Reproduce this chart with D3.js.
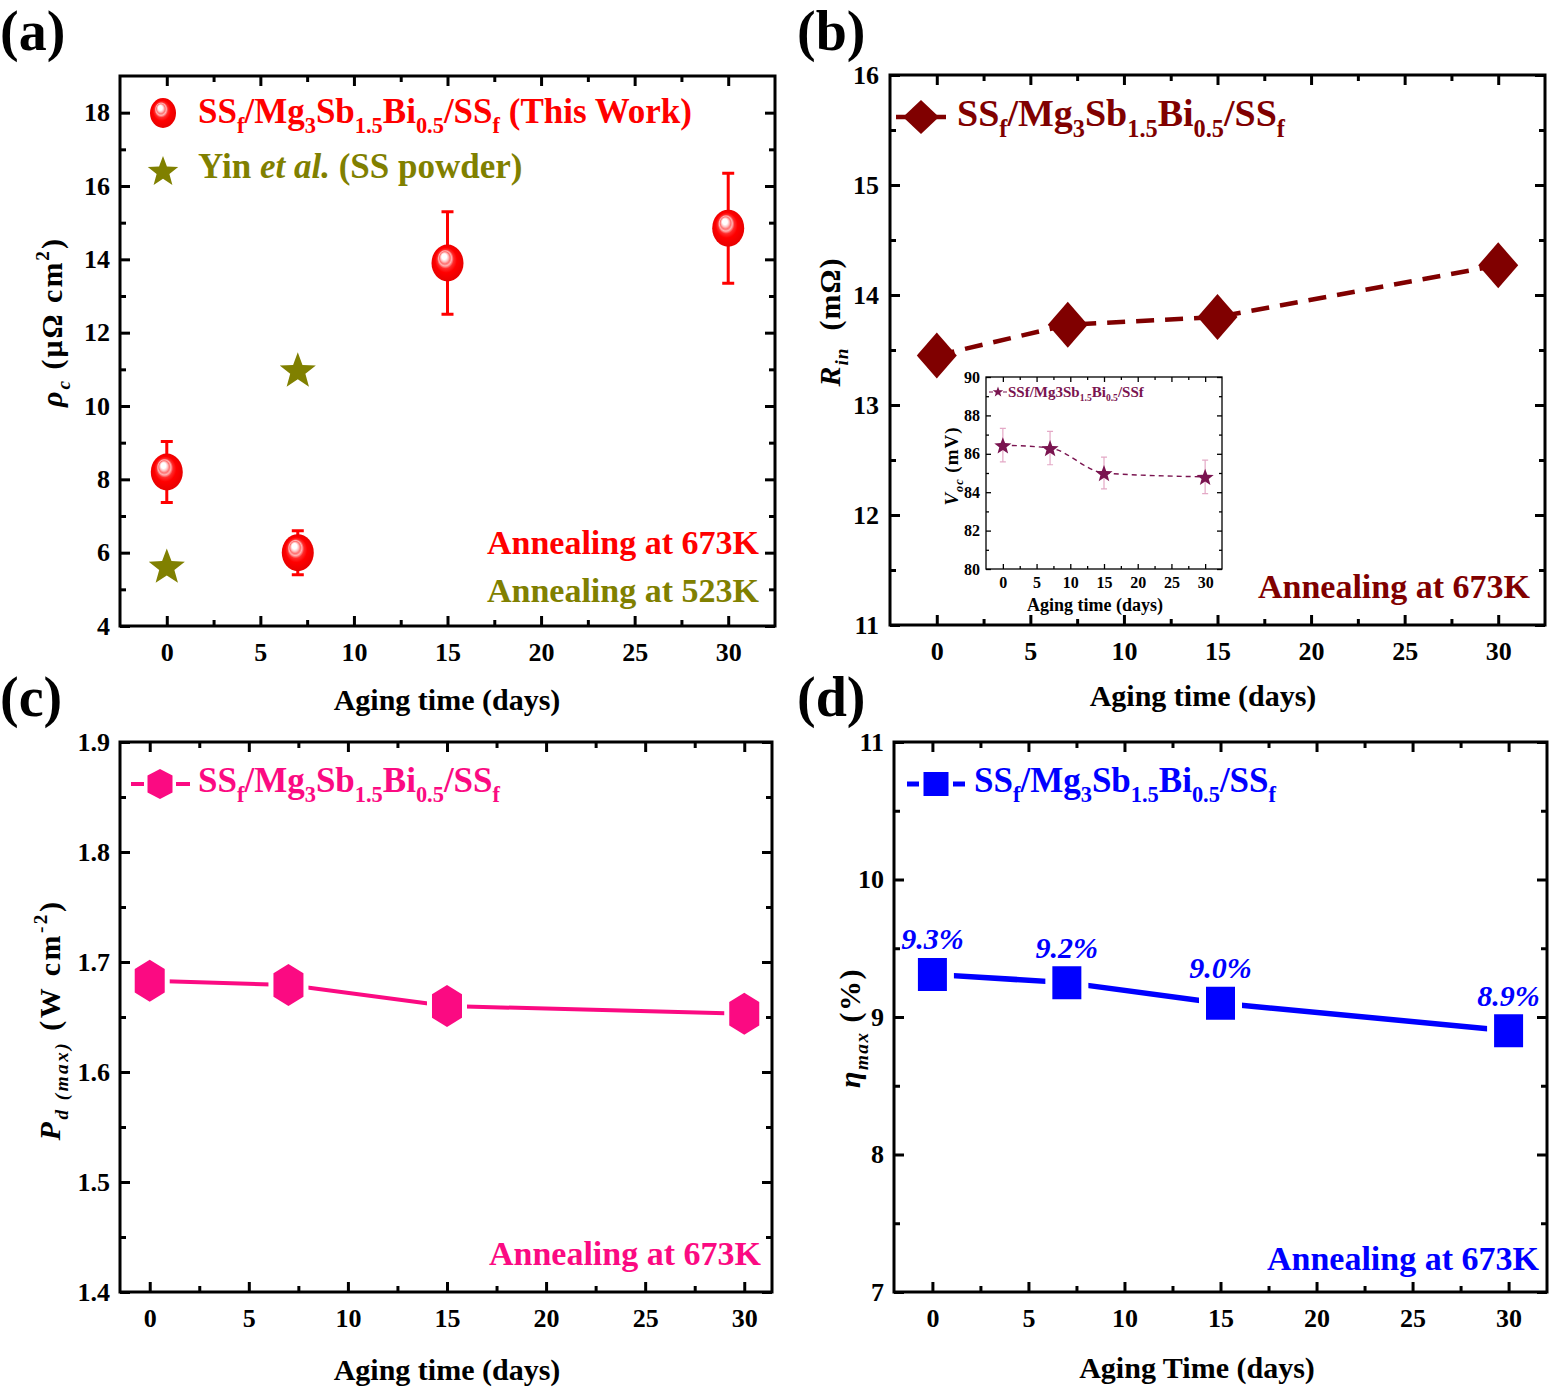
<!DOCTYPE html>
<html lang="en">
<head>
<meta charset="UTF-8">
<title>Aging stability of SSf/Mg3Sb1.5Bi0.5/SSf joints</title>
<script src="https://d3js.org/d3.v7.min.js"></script>
<style>
  body { margin: 0; background: #fff; }
  svg { display: block; font-family: "Liberation Serif", "Times New Roman", serif; font-weight: bold; }
  text { white-space: pre; }
</style>
</head>
<body>
<svg width="1550" height="1392"></svg>
<script>
// aging time of the measured samples (days)
const days = [0, 7, 15, 30];

// (a) contact resistivity, uOhm cm2
const rhoThisWork = [8.2, 6.0, 13.9, 14.85];
const rhoErr = [0.83, 0.6, 1.4, 1.5];
const yinDays = [0, 7];
const rhoYin = [5.65, 11.0];

// (b) internal resistance, mOhm
const rIn = [13.45, 13.73, 13.8, 14.27];
// (b) inset, open circuit voltage, mV
const vOc = [86.45, 86.3, 85.0, 84.8];
const vOcErr = [0.87, 0.87, 0.83, 0.87];

// (c) max power density, W cm-2
const pdMax = [1.683, 1.679, 1.66, 1.653];

// (d) max efficiency, %
const etaMax = [9.31, 9.25, 9.1, 8.9];
const etaLabels = ["9.3%", "9.2%", "9.0%", "8.9%"];

// ticks
const xTicks = [0, 5, 10, 15, 20, 25, 30];
const xMinor = [2.5, 7.5, 12.5, 17.5, 22.5, 27.5];
const rhoTicks = [4, 6, 8, 10, 12, 14, 16, 18];
const rhoMinor = [5, 7, 9, 11, 13, 15, 17];
const rTicks = [11, 12, 13, 14, 15, 16];
const rMinor = [11.5, 12.5, 13.5, 14.5, 15.5];
const vTicks = [80, 82, 84, 86, 88, 90];
const vMinor = [81, 83, 85, 87, 89];
const pTicks = [1.4, 1.5, 1.6, 1.7, 1.8, 1.9];
const pMinor = [1.45, 1.55, 1.65, 1.75, 1.85];
const eTicks = [7, 8, 9, 10, 11];
const eMinor = [7.5, 8.5, 9.5, 10.5];

const formula = [["SS"], ["f", "sub"], ["/Mg"], ["3", "sub"], ["Sb"], ["1.5", "sub"], ["Bi"], ["0.5", "sub"], ["/SS"], ["f", "sub"]];

const RED = "#ff0000", OLIVE = "#808000", MAROON = "#800000", PLUM = "#7a1450", PINK = "#fb0a82", BLUE = "#0000ff";

const svg = d3.select("svg");
svg.append("rect").attr("width", 1550).attr("height", 1392).attr("fill", "#fff");
const defs = svg.append("defs");

// shaded ball used by Origin for "this work"
const ball = defs.append("radialGradient").attr("id", "ball")
  .attr("cx", "50%").attr("cy", "50%").attr("r", "55%").attr("fx", "38%").attr("fy", "30%");
[[0, "#ffffff"], [0.14, "#ffffff"], [0.22, "#ffc4c4"], [0.3, "#ff7070"], [0.37, "#ffb4b4"], [0.47, "#ff2a2a"], [0.62, "#ff0000"], [1, "#e20000"]]
  .forEach(s => ball.append("stop").attr("offset", s[0]).attr("stop-color", s[1]));

// ---------- helpers ----------
function rich(sel, parts, size) {
  let off = 0;
  parts.forEach(([str, kind]) => {
    const sub = kind === "sub" || kind === "isub";
    const sup = kind === "sup";
    const target = sub ? size * 0.28 : sup ? -size * 0.42 : 0;
    sel.append("tspan")
      .attr("dy", target - off)
      .attr("font-size", (sub || sup) ? size * 0.64 : size)
      .attr("font-style", (kind === "i" || kind === "isub") ? "italic" : null)
      .text(str);
    off = target;
  });
}

function label(x, y, parts, o) {
  const t = svg.append("text")
    .attr("fill", o.color || "#000")
    .attr("font-size", o.size)
    .attr("text-anchor", o.anchor || "start");
  if (o.rotate) t.attr("transform", `translate(${x},${y}) rotate(-90)`);
  else t.attr("x", x).attr("y", y);
  if (o.spacing) t.attr("letter-spacing", o.spacing);
  rich(t, parts, o.size);
  return t;
}

function drawAxes(o) {
  const x = d3.scaleLinear().domain(o.xDomain).range([o.left, o.right]);
  const y = d3.scaleLinear().domain(o.yDomain).range([o.bottom, o.top]);
  const g = svg.append("g");
  const big = o.tick, small = Math.round(o.tick * 0.6);
  const add = (axis, tx, ty) => g.append("g")
    .attr("transform", `translate(${tx},${ty})`)
    .call(axis)
    .attr("font-family", null)
    .attr("font-size", o.font);

  add(d3.axisBottom(x).tickValues(xTicks).tickSize(-big).tickPadding(o.xPad).tickFormat(d3.format("d")), 0, o.bottom);
  add(d3.axisBottom(x).tickValues(xMinor).tickSize(-small).tickFormat(""), 0, o.bottom);
  add(d3.axisTop(x).tickValues(xTicks).tickSize(-big).tickFormat(""), 0, o.top);
  add(d3.axisTop(x).tickValues(xMinor).tickSize(-small).tickFormat(""), 0, o.top);
  add(d3.axisLeft(y).tickValues(o.yTicks).tickSize(-big).tickPadding(o.yPad).tickFormat(o.yFmt), o.left, 0);
  add(d3.axisLeft(y).tickValues(o.yMinor).tickSize(-small).tickFormat(""), o.left, 0);
  add(d3.axisRight(y).tickValues(o.yTicks).tickSize(-big).tickFormat(""), o.right, 0);
  add(d3.axisRight(y).tickValues(o.yMinor).tickSize(-small).tickFormat(""), o.right, 0);

  g.selectAll(".domain").remove();
  g.selectAll(".tick line").attr("stroke", "#000").attr("stroke-width", o.lw);
  g.selectAll(".tick text").attr("fill", "#000");
  g.append("rect")
    .attr("x", o.left).attr("y", o.top)
    .attr("width", o.right - o.left).attr("height", o.bottom - o.top)
    .attr("fill", "none").attr("stroke", "#000").attr("stroke-width", o.lw);
  return { x, y };
}

function starPath(R) {
  const pts = [];
  for (let k = 0; k < 10; k++) {
    const r = k % 2 ? R * 0.42 : R;
    const a = -Math.PI / 2 + k * Math.PI / 5;
    pts.push([r * Math.cos(a), r * Math.sin(a)]);
  }
  return "M" + pts.map(p => p.join(",")).join("L") + "Z";
}
const diamondPath = (w, h) => `M0,${-h / 2}L${w / 2},0L0,${h / 2}L${-w / 2},0Z`;
const hexPath = (w, h) => `M0,${-h / 2}L${w / 2},${-h * 0.28}L${w / 2},${h * 0.28}L0,${h / 2}L${-w / 2},${h * 0.28}L${-w / 2},${-h * 0.28}Z`;
const rectPath = (w, h) => `M${-w / 2},${-h / 2}H${w / 2}V${h / 2}H${-w / 2}Z`;

// ---------- panel letters ----------
[["(a)", 0, 50], ["(b)", 797, 50], ["(c)", 0, 716], ["(d)", 797, 716]].forEach(p =>
  svg.append("text").attr("x", p[1]).attr("y", p[2]).attr("font-size", 56).text(p[0]));

// ---------- (a) ----------
const A = drawAxes({ left: 120, right: 775, top: 76, bottom: 626, xDomain: [-2.5, 32.5], yDomain: [4, 19],
  yTicks: rhoTicks, yMinor: rhoMinor, yFmt: d3.format("d"), tick: 10, lw: 3, font: 26, xPad: 17, yPad: 10 });

const ga = svg.append("g");
ga.selectAll(".err").data(days).join("path")
  .attr("d", (d, i) => {
    const cx = A.x(d), y1 = A.y(rhoThisWork[i] - rhoErr[i]), y2 = A.y(rhoThisWork[i] + rhoErr[i]);
    return `M${cx - 6},${y1}H${cx + 6}M${cx},${y1}V${y2}M${cx - 6},${y2}H${cx + 6}`;
  })
  .attr("stroke", RED).attr("stroke-width", 3).attr("fill", "none");
ga.selectAll("ellipse").data(days).join("ellipse")
  .attr("cx", d => A.x(d)).attr("cy", (d, i) => A.y(rhoThisWork[i]))
  .attr("rx", 16).attr("ry", 18.5).attr("fill", "url(#ball)");
ga.selectAll(".yin").data(yinDays).join("path")
  .attr("transform", (d, i) => `translate(${A.x(d)},${A.y(rhoYin[i]) + 2})`)
  .attr("d", starPath(19)).attr("fill", OLIVE);

// legend (a)
svg.append("ellipse").attr("cx", 163).attr("cy", 113).attr("rx", 13).attr("ry", 15).attr("fill", "url(#ball)");
label(198, 123, formula.concat([[" (This Work)"]]), { size: 35, color: RED });
svg.append("path").attr("transform", "translate(163,172)").attr("d", starPath(16)).attr("fill", OLIVE);
label(198, 178, [["Yin "], ["et al.", "i"], [" (SS powder)"]], { size: 35, color: OLIVE });
label(759, 554, [["Annealing at 673K"]], { size: 34, color: RED, anchor: "end" });
label(759, 602, [["Annealing at 523K"]], { size: 34, color: OLIVE, anchor: "end" });
label(447, 710, [["Aging time (days)"]], { size: 30, anchor: "middle" });
label(62, 322, [["ρ", "i"], ["c", "isub"], [" (μΩ cm"], ["2", "sup"], [")"]], { size: 30, anchor: "middle", rotate: true, spacing: 2 });

// ---------- (b) ----------
const B = drawAxes({ left: 890, right: 1545, top: 75, bottom: 625, xDomain: [-2.5, 32.5], yDomain: [11, 16],
  yTicks: rTicks, yMinor: rMinor, yFmt: d3.format("d"), tick: 10, lw: 3, font: 26, xPad: 17, yPad: 11 });

svg.append("path").datum(days)
  .attr("d", d3.line().x(d => B.x(d)).y((d, i) => B.y(rIn[i])))
  .attr("fill", "none").attr("stroke", MAROON).attr("stroke-width", 4.5).attr("stroke-dasharray", "18,11");
svg.append("g").selectAll("path").data(days).join("path")
  .attr("transform", (d, i) => `translate(${B.x(d)},${B.y(rIn[i])})`)
  .attr("d", diamondPath(40, 46)).attr("fill", MAROON);

svg.append("line").attr("x1", 896).attr("x2", 947).attr("y1", 117).attr("y2", 117)
  .attr("stroke", MAROON).attr("stroke-width", 4.5).attr("stroke-dasharray", "12,26");
svg.append("path").attr("transform", "translate(921,117)").attr("d", diamondPath(36, 34)).attr("fill", MAROON);
label(957, 126, formula, { size: 38, color: MAROON });
label(1530, 598, [["Annealing at 673K"]], { size: 34, color: MAROON, anchor: "end" });
label(1203, 706, [["Aging time (days)"]], { size: 30, anchor: "middle" });
label(840, 322, [["R", "i"], ["in", "isub"], ["  (mΩ)"]], { size: 30, anchor: "middle", rotate: true, spacing: 1 });

// inset
svg.append("rect").attr("x", 986).attr("y", 377).attr("width", 236).attr("height", 192).attr("fill", "#fff");
const I = drawAxes({ left: 986, right: 1222, top: 377, bottom: 569, xDomain: [-2.5, 32.5], yDomain: [80, 90],
  yTicks: vTicks, yMinor: vMinor, yFmt: d3.format("d"), tick: 5, lw: 1.3, font: 16, xPad: 8, yPad: 6 });

svg.append("path").datum(days)
  .attr("d", d3.line().curve(d3.curveMonotoneX).x(d => I.x(d)).y((d, i) => I.y(vOc[i])))
  .attr("fill", "none").attr("stroke", PLUM).attr("stroke-width", 1.4).attr("stroke-dasharray", "5,4");
svg.append("g").selectAll("path").data(days).join("path")
  .attr("d", (d, i) => {
    const cx = I.x(d), y1 = I.y(vOc[i] - vOcErr[i]), y2 = I.y(vOc[i] + vOcErr[i]);
    return `M${cx - 3},${y1}H${cx + 3}M${cx},${y1}V${y2}M${cx - 3},${y2}H${cx + 3}`;
  })
  .attr("stroke", "#e4a9c6").attr("stroke-width", 1.2).attr("fill", "none");
svg.append("g").selectAll("path").data(days).join("path")
  .attr("transform", (d, i) => `translate(${I.x(d)},${I.y(vOc[i]) + 1})`)
  .attr("d", starPath(9)).attr("fill", PLUM);

svg.append("line").attr("x1", 989).attr("x2", 1007).attr("y1", 392).attr("y2", 392)
  .attr("stroke", PLUM).attr("stroke-width", 1.2).attr("stroke-dasharray", "4,10");
svg.append("path").attr("transform", "translate(998,392)").attr("d", starPath(5.5)).attr("fill", PLUM);
label(1008, 397, [["SSf/Mg3Sb"], ["1.5", "sub"], ["Bi"], ["0.5", "sub"], ["/SSf"]], { size: 15, color: PLUM });
label(1095, 611, [["Aging time (days)"]], { size: 18, anchor: "middle" });
label(958, 466, [["V", "i"], ["oc", "isub"], [" (mV)"]], { size: 19, anchor: "middle", rotate: true, spacing: 1 });

// ---------- (c) ----------
const C = drawAxes({ left: 120, right: 772, top: 742, bottom: 1292, xDomain: [-1.5, 31.4], yDomain: [1.4, 1.9],
  yTicks: pTicks, yMinor: pMinor, yFmt: d3.format(".1f"), tick: 10, lw: 3, font: 26, xPad: 17, yPad: 10 });

svg.append("path").datum(days)
  .attr("d", d3.line().x(d => C.x(d)).y((d, i) => C.y(pdMax[i])))
  .attr("fill", "none").attr("stroke", PINK).attr("stroke-width", 4);
svg.append("g").selectAll("path").data(days).join("path")
  .attr("transform", (d, i) => `translate(${C.x(d)},${C.y(pdMax[i])})`)
  .attr("d", hexPath(30, 42)).attr("fill", PINK)
  .attr("stroke", "#fff").attr("stroke-width", 10).attr("paint-order", "stroke");

svg.append("line").attr("x1", 131).attr("x2", 190).attr("y1", 784).attr("y2", 784)
  .attr("stroke", PINK).attr("stroke-width", 4);
svg.append("path").attr("transform", "translate(160,784)").attr("d", hexPath(25, 30))
  .attr("fill", PINK).attr("stroke", "#fff").attr("stroke-width", 7).attr("paint-order", "stroke");
label(198, 792, formula, { size: 35, color: PINK });
label(761, 1265, [["Annealing at 673K"]], { size: 34, color: PINK, anchor: "end" });
label(447, 1380, [["Aging time (days)"]], { size: 30, anchor: "middle" });
label(60, 1020, [["P", "i"], ["d (max)", "isub"], [" (W cm"], ["-2", "sup"], [")"]], { size: 30, anchor: "middle", rotate: true, spacing: 2.5 });

// ---------- (d) ----------
const D = drawAxes({ left: 894, right: 1547, top: 742, bottom: 1292, xDomain: [-2, 32], yDomain: [7, 11],
  yTicks: eTicks, yMinor: eMinor, yFmt: d3.format("d"), tick: 10, lw: 3, font: 26, xPad: 17, yPad: 10 });

svg.append("path").datum(days)
  .attr("d", d3.line().x(d => D.x(d)).y((d, i) => D.y(etaMax[i])))
  .attr("fill", "none").attr("stroke", BLUE).attr("stroke-width", 5.5);
svg.append("g").selectAll("path").data(days).join("path")
  .attr("transform", (d, i) => `translate(${D.x(d)},${D.y(etaMax[i])})`)
  .attr("d", rectPath(29, 33)).attr("fill", BLUE)
  .attr("stroke", "#fff").attr("stroke-width", 14).attr("paint-order", "stroke");
svg.append("g").selectAll("text").data(days).join("text")
  .attr("x", d => D.x(d)).attr("y", (d, i) => D.y(etaMax[i]) - 25)
  .attr("text-anchor", "middle").attr("font-size", 30).attr("font-style", "italic")
  .attr("fill", BLUE).text((d, i) => etaLabels[i]);

svg.append("line").attr("x1", 907).attr("x2", 965).attr("y1", 784).attr("y2", 784)
  .attr("stroke", BLUE).attr("stroke-width", 5);
svg.append("path").attr("transform", "translate(936,784)").attr("d", rectPath(25, 24))
  .attr("fill", BLUE).attr("stroke", "#fff").attr("stroke-width", 9).attr("paint-order", "stroke");
label(974, 792, formula, { size: 35, color: BLUE });
label(1539, 1270, [["Annealing at 673K"]], { size: 34, color: BLUE, anchor: "end" });
label(1197, 1378, [["Aging Time (days)"]], { size: 30, anchor: "middle" });
label(860, 1028, [["η", "i"], ["max", "isub"], [" (%)"]], { size: 30, anchor: "middle", rotate: true, spacing: 1.5 });
</script>
</body>
</html>
